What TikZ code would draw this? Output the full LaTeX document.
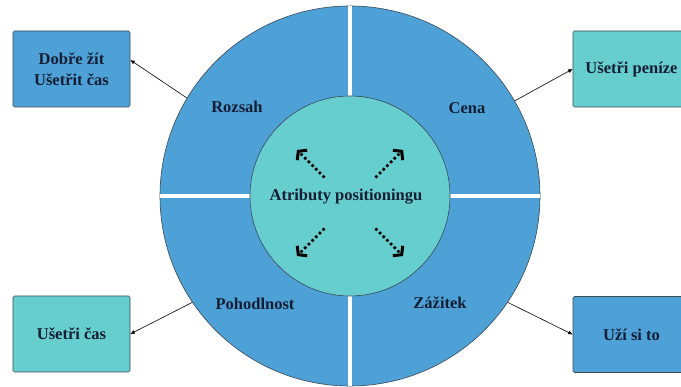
\documentclass[tikz,border=0pt]{standalone}
\usepackage{fontspec}
\setmainfont{Liberation Serif}
\usetikzlibrary{arrows.meta,positioning,calc}

\definecolor{ringblue}{RGB}{77,161,215}
\definecolor{coreteal}{RGB}{102,206,206}
\definecolor{inkblue}{RGB}{22,30,52}
\definecolor{edgegray}{RGB}{60,72,84}

\begin{document}
\begin{tikzpicture}[
  x=1pt, y=1pt,
  font=\fontsize{16.5}{21}\selectfont\bfseries,
  text=inkblue,
  >={Latex[length=4.5pt, width=4pt]},
  disc/.style={circle, draw=edgegray, line width=0.6pt, inner sep=0pt},
  box/.style={draw=edgegray, line width=0.6pt, rounded corners=1.5pt, align=center,
              minimum width=117pt, minimum height=76pt, inner sep=2pt},
  link/.style={->, line width=0.6pt, black},
  spoke/.style={dash pattern=on 2.6pt off 2.6pt, line width=2.6pt, black,
                -{Straight Barb[length=5.5pt, width=14pt, line width=3pt]}}
]
  \useasboundingbox (0,0) rectangle (681,387);

  % outer ring in four parts
  \node[disc, fill=ringblue, minimum size=380pt] (ring) at (350,191) {};
  \draw[white, line width=3.5pt] (ring.north) -- (ring.south);
  \draw[white, line width=3.5pt] (ring.west) -- (ring.east);
  \node[disc, fill=coreteal, minimum size=200pt] (core) at (350,191) {};
  \node at (346,190) (title) {Atributy positioningu};

  % quadrant labels
  \node (rozsah) at (237,280) {Rozsah};
  \node (cena) at (467,279) {Cena};
  \node (pohodlnost) at (255,83) {Pohodlnost};
  \node (zazitek) at (440,84) {Zážitek};

  % boxes
  \node[box, fill=ringblue] (dobre) at (71.5,318) {Dobře žít\\Ušetřit čas};
  \node[box, fill=coreteal] (penize) at (631.5,318) {Ušetři peníze};
  \node[box, fill=coreteal] (cas) at (71.5,53) {Ušetři čas};
  \node[box, fill=ringblue] (uzij) at (631.5,52.5) {Uží si to};

  \draw[link] (ring.149) -- ([yshift=9pt]dobre.east);
  \draw[link] (ring.30) -- (penize.west);
  \draw[link] (ring.214) -- (cas.east);
  \draw[link] (ring.326) -- (uzij.west);

  % dotted arrows round the title
  \coordinate (hub) at (350,184);
  \foreach \a in {45,135,225,315} {
    \path (hub) ++(\a:36) coordinate (s\a) ++(\a:39) coordinate (e\a);
    \draw[spoke] (s\a) -- (e\a);
  }
\end{tikzpicture}
\end{document}
